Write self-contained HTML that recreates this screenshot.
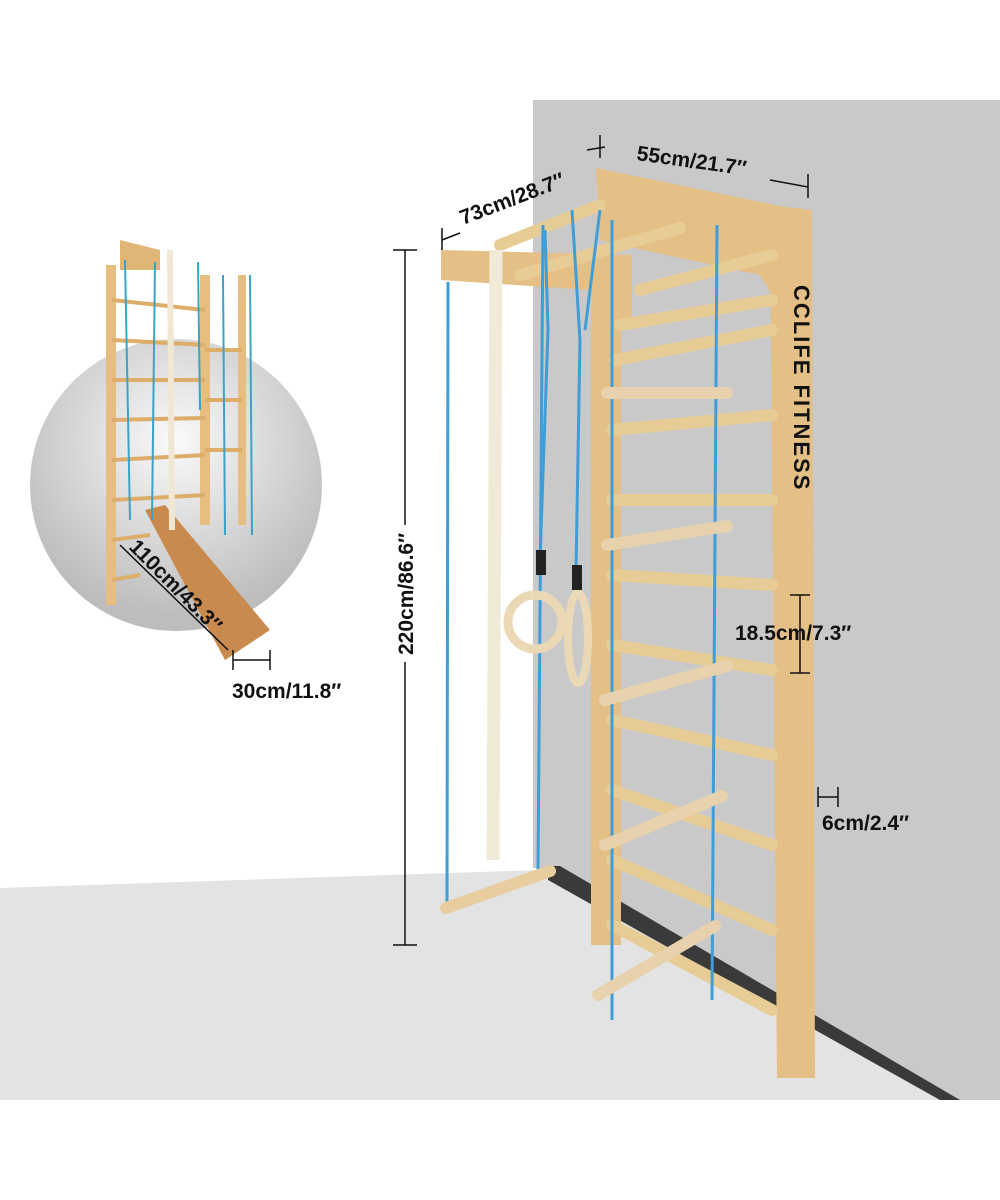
<!DOCTYPE html>
<html><head><style>body{margin:0;width:1000px;height:1200px;overflow:hidden;background:#fff}svg{display:block}text{font-family:"Liberation Sans",sans-serif;font-weight:bold;font-size:21px;fill:#111}</style></head><body>
<svg width="1000" height="1200" viewBox="0 0 1000 1200">
<defs>
<radialGradient id="cg" cx="0.5" cy="0.35" r="0.6"><stop offset="0" stop-color="#fafafa"/><stop offset="1" stop-color="#bdbdbd"/></radialGradient>
</defs>
<polygon points="0,888 540,870 960,1100 0,1100" fill="#e3e3e3"/>
<polygon points="533,100 1000,100 1000,1100 955,1100 548,868 533,868" fill="#c9c9c9"/>
<polygon points="548,866 560,866 960,1100 940,1100 548,880" fill="#3a3a3a"/>
<circle cx="176" cy="485" r="146" fill="url(#cg)"/>
<g stroke="#dcae6a" fill="none">
<rect x="106" y="265" width="10" height="340" fill="#e6bf80" stroke="none"/>
<rect x="200" y="275" width="10" height="250" fill="#e6bf80" stroke="none"/>
<rect x="238" y="275" width="8" height="250" fill="#e6bf80" stroke="none"/>
<g stroke-width="4">
<line x1="112" y1="300" x2="205" y2="310"/><line x1="112" y1="340" x2="205" y2="345"/><line x1="112" y1="380" x2="205" y2="380"/><line x1="112" y1="420" x2="205" y2="418"/><line x1="112" y1="460" x2="205" y2="455"/><line x1="112" y1="500" x2="205" y2="495"/><line x1="112" y1="540" x2="150" y2="535"/><line x1="112" y1="580" x2="140" y2="575"/>
<line x1="205" y1="350" x2="242" y2="350"/><line x1="205" y1="400" x2="242" y2="400"/><line x1="205" y1="450" x2="242" y2="450"/>
</g></g>
<polygon points="120,240 160,250 160,270 120,270" fill="#e0b676"/>
<polygon points="145,510 165,505 270,630 225,660" fill="#c98a4e"/>
<g stroke="#3aa3c7" stroke-width="2"><line x1="125" y1="260" x2="130" y2="520"/><line x1="155" y1="262" x2="152" y2="520"/><line x1="198" y1="262" x2="200" y2="410"/><line x1="223" y1="275" x2="225" y2="535"/><line x1="250" y1="275" x2="252" y2="535"/></g>
<line x1="170" y1="250" x2="172" y2="530" stroke="#f0e8d5" stroke-width="6"/>
<g stroke="#111" stroke-width="1.5"><line x1="120" y1="545" x2="228" y2="650"/><line x1="233" y1="660" x2="270" y2="660"/><line x1="233" y1="650" x2="233" y2="670"/><line x1="270" y1="650" x2="270" y2="670"/></g>
<text transform="translate(128,548) rotate(45)">110cm/43.3″</text>
<text x="232" y="698">30cm/11.8″</text>
<g fill="#e4c086">
<rect x="591" y="290" width="30" height="655"/>
<polygon points="770,205 812,210 815,1078 777,1078"/>
<polygon points="596,168 775,205 775,300 760,275 620,245 600,240"/>
<polygon points="441,250 632,255 632,320 605,320 590,290 441,280"/>
</g>
<g stroke="#e8cc96" stroke-width="12" stroke-linecap="round">
<line x1="500" y1="245" x2="600" y2="205"/><line x1="520" y1="275" x2="680" y2="228"/><line x1="640" y1="290" x2="772" y2="255"/>
<line x1="620" y1="325" x2="772" y2="300"/><line x1="615" y1="360" x2="772" y2="330"/><line x1="612" y1="430" x2="772" y2="415"/><line x1="612" y1="500" x2="772" y2="500"/><line x1="612" y1="575" x2="772" y2="585"/><line x1="612" y1="645" x2="772" y2="670"/><line x1="612" y1="720" x2="772" y2="755"/><line x1="612" y1="790" x2="772" y2="845"/><line x1="612" y1="860" x2="772" y2="930"/><line x1="612" y1="925" x2="772" y2="1010"/>
</g>
<text transform="translate(794,285) rotate(90)" style="font-size:22px;letter-spacing:2px">CCLIFE FITNESS</text>
<g stroke="#3f9ed8" stroke-width="3" fill="none">
<line x1="448" y1="282" x2="447" y2="908"/>
<line x1="543" y1="225" x2="538" y2="870"/><path d="M545,230 L548,330 L540,560"/>
<path d="M572,210 L580,340 L576,570"/><line x1="600" y1="210" x2="585" y2="330"/>
<line x1="612" y1="220" x2="612" y2="1020"/><line x1="717" y1="225" x2="712" y2="1000"/>
</g>
<line x1="496" y1="250" x2="493" y2="860" stroke="#f2ead8" stroke-width="13"/>
<line x1="446" y1="908" x2="550" y2="871" stroke="#e8cda0" stroke-width="12" stroke-linecap="round"/>
<circle cx="535" cy="622" r="27" fill="none" stroke="#ebd8b4" stroke-width="9"/>
<ellipse cx="578" cy="638" rx="10" ry="45" fill="none" stroke="#ebd8b4" stroke-width="8"/>
<rect x="536" y="550" width="10" height="25" fill="#222"/><rect x="572" y="565" width="10" height="25" fill="#222"/>
<g stroke="#e8d2ad" stroke-width="12" stroke-linecap="round">
<line x1="607" y1="393" x2="727" y2="393"/><line x1="607" y1="545" x2="727" y2="526"/><line x1="605" y1="700" x2="727" y2="666"/><line x1="605" y1="845" x2="722" y2="796"/><line x1="598" y1="995" x2="715" y2="926"/>
</g>
<g stroke="#111" stroke-width="1.5">
<line x1="405" y1="250" x2="405" y2="525"/><line x1="405" y1="662" x2="405" y2="945"/><line x1="393" y1="250" x2="417" y2="250"/><line x1="393" y1="945" x2="417" y2="945"/>
<line x1="442" y1="240" x2="460" y2="233"/><line x1="442" y1="228" x2="442" y2="250"/>
<line x1="587" y1="150" x2="605" y2="147"/><line x1="600" y1="135" x2="600" y2="158"/>
<line x1="770" y1="180" x2="808" y2="187"/><line x1="808" y1="174" x2="808" y2="198"/>
<line x1="800" y1="595" x2="800" y2="673"/><line x1="790" y1="595" x2="810" y2="595"/><line x1="790" y1="673" x2="810" y2="673"/>
<line x1="818" y1="797" x2="838" y2="797"/><line x1="818" y1="787" x2="818" y2="807"/><line x1="838" y1="787" x2="838" y2="807"/>
</g>
<text transform="translate(413,655) rotate(-90)">220cm/86.6″</text>
<text transform="translate(463,225) rotate(-21)">73cm/28.7″</text>
<text transform="translate(636,160) rotate(8)">55cm/21.7″</text>
<text x="735" y="640">18.5cm/7.3″</text>
<text x="822" y="830">6cm/2.4″</text>
</svg>
</body></html>
